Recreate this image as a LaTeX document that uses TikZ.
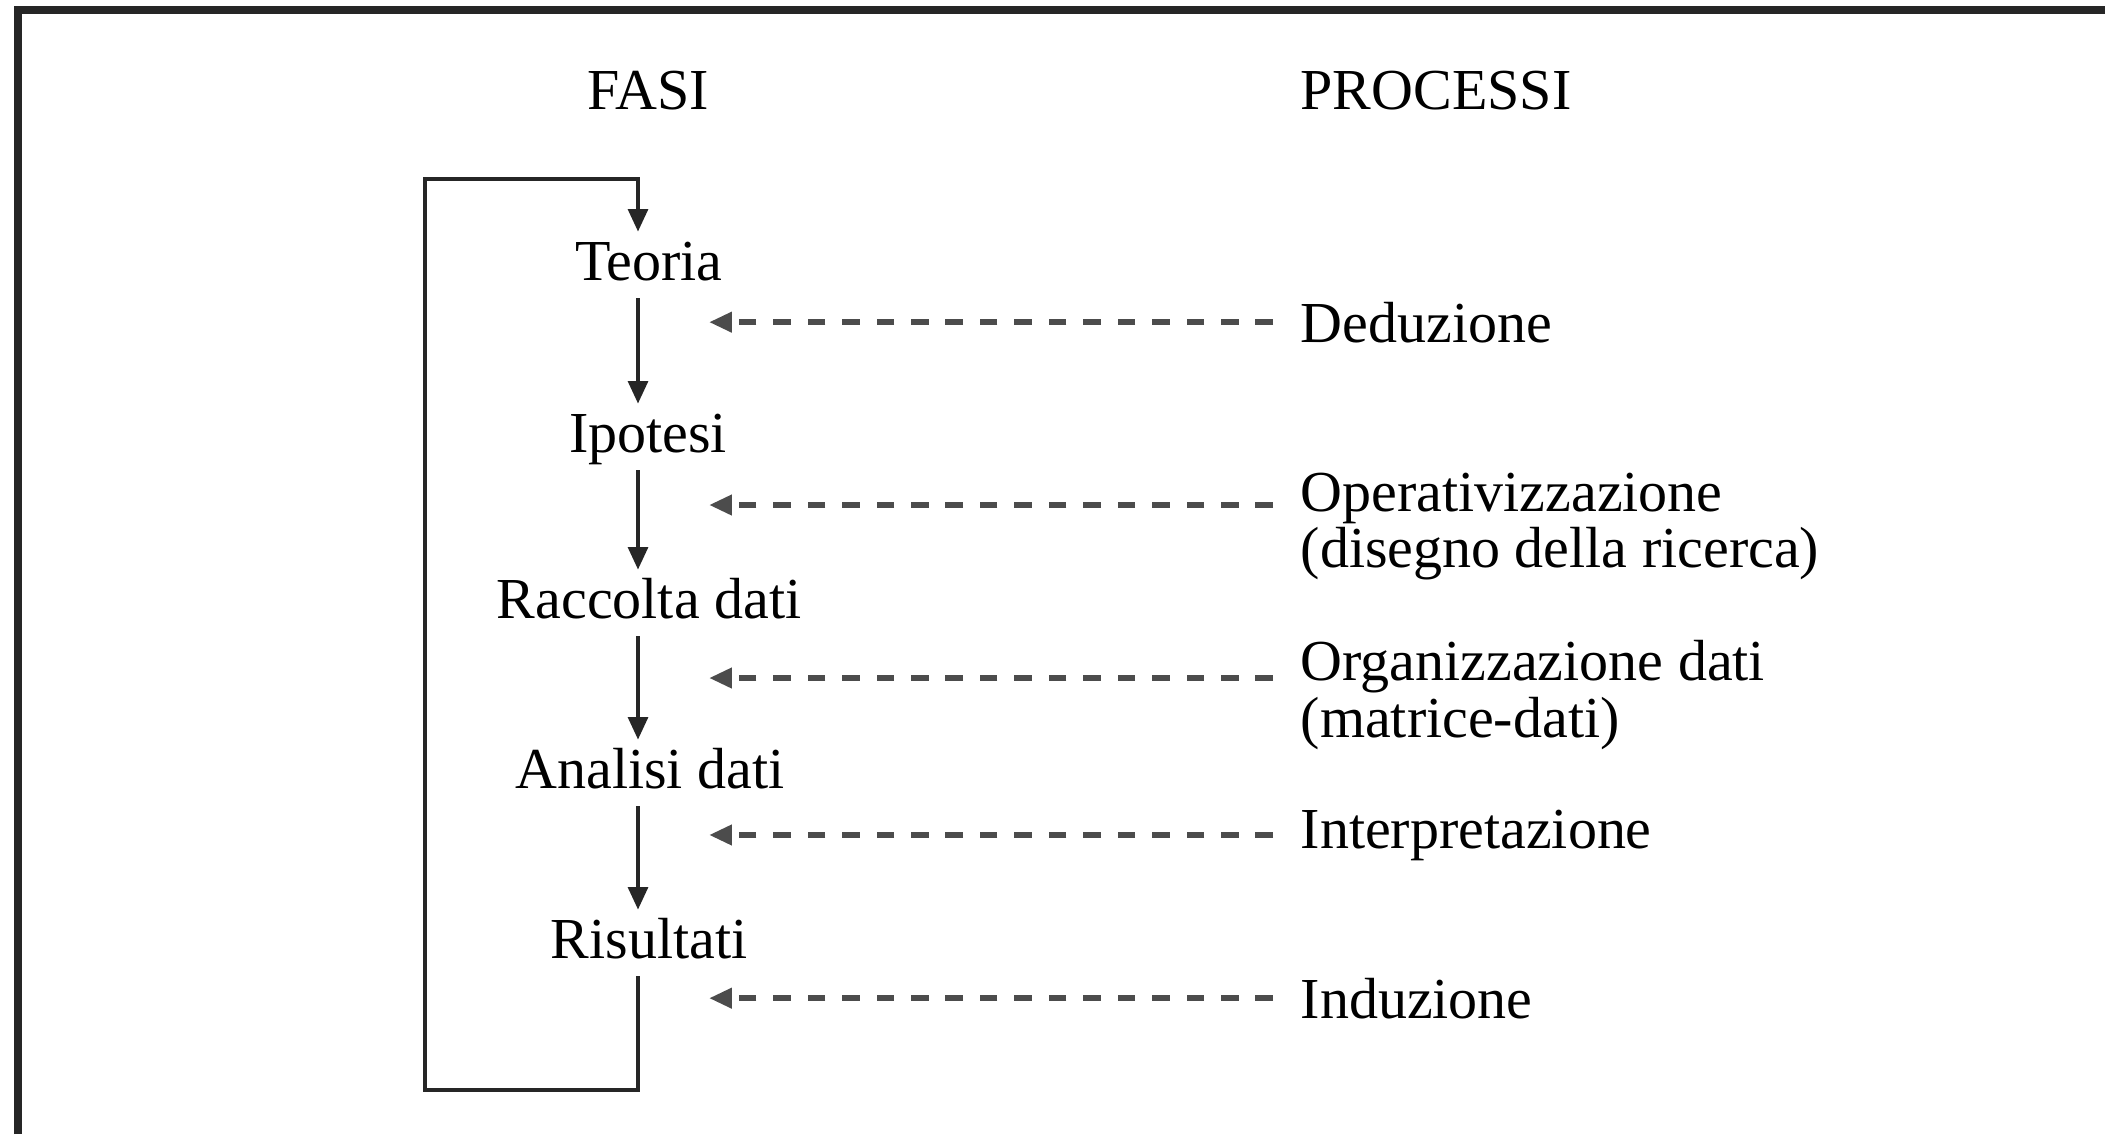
\documentclass[tikz,border=0pt]{standalone}
\usepackage{fontspec}
\setmainfont{Liberation Serif}
\usepackage{tikz}
\usetikzlibrary{arrows.meta,backgrounds,calc}

\tikzset{
  fase/.style={inner xsep=1pt, inner ysep=0pt, text height=13.5pt, text depth=5pt, font=\fontsize{16.5}{16}\selectfont},
  processo/.style={inner sep=0pt, align=left, font=\fontsize{16.5}{16}\selectfont},
  freccia/.style={-{Triangle[length=6.5pt,width=5.5pt]}, line width=1.4pt, black!85},
  tratteggio/.style={-{Triangle[length=6.5pt,width=5.5pt]}, line width=1.7pt, dash pattern=on 5pt off 4.8pt, black!70},
}

\begin{document}
\begin{tikzpicture}
\useasboundingbox[fill=white] (0cm,0cm) rectangle (21.05cm,-11.34cm);
\draw[line width=2.4pt, black!85] (0.18cm,-11.34cm) -- (0.18cm,-0.10cm) -- (21.05cm,-0.10cm);

\node[processo, anchor=base] (fasi) at (6.48cm,-1.09cm) {FASI};
\node[processo, anchor=base west] (processi) at (13.00cm,-1.09cm) {PROCESSI};

\coordinate (spine) at (6.38cm,0cm);
\coordinate (tip) at (7.09cm,0cm);
\coordinate (loopbl) at (4.25cm,-10.90cm);
\coordinate (looptl) at (4.25cm,-1.79cm);

\node[fase, anchor=base] (teoria) at (6.49cm,-2.80cm) {Teoria};
\node[fase, anchor=base] (ipotesi) at (6.48cm,-4.52cm) {Ipotesi};
\node[fase, anchor=base] (raccolta) at (6.49cm,-6.18cm) {Raccolta dati};
\node[fase, anchor=base] (analisi) at (6.50cm,-7.88cm) {Analisi dati};
\node[fase, anchor=base] (risultati) at (6.49cm,-9.58cm) {Risultati};

\node[processo, anchor=base west] (deduzione) at (13.00cm,-3.42cm) {Deduzione};
\node[processo, anchor=north west] (operativ) at (13.00cm,-4.72cm) {Operativizzazione\\(disegno della ricerca)};
\node[processo, anchor=north west] (organizz) at (13.00cm,-6.40cm) {Organizzazione dati\\(matrice-dati)};
\node[processo, anchor=base west] (interpret) at (13.00cm,-8.48cm) {Interpretazione};
\node[processo, anchor=base west] (induzione) at (13.00cm,-10.18cm) {Induzione};

\draw[freccia] (teoria.south -| spine) -- (ipotesi.north -| spine);
\draw[freccia] (ipotesi.south -| spine) -- (raccolta.north -| spine);
\draw[freccia] (raccolta.south -| spine) -- (analisi.north -| spine);
\draw[freccia] (analisi.south -| spine) -- (risultati.north -| spine);
\draw[freccia] (risultati.south -| spine) |- (loopbl) -- (looptl) -| (teoria.north -| spine);

\coordinate (o1) at ($(operativ.north west)+(-0.27cm,-0.33cm)$);
\coordinate (o2) at ($(organizz.north west)+(-0.27cm,-0.38cm)$);
\draw[tratteggio] ([xshift=-2.7mm]deduzione.west) -- (deduzione.west -| tip);
\draw[tratteggio] (o1) -- (o1 -| tip);
\draw[tratteggio] (o2) -- (o2 -| tip);
\draw[tratteggio] ([xshift=-2.7mm]interpret.west) -- (interpret.west -| tip);
\draw[tratteggio] ([xshift=-2.7mm]induzione.west) -- (induzione.west -| tip);
\end{tikzpicture}
\end{document}
